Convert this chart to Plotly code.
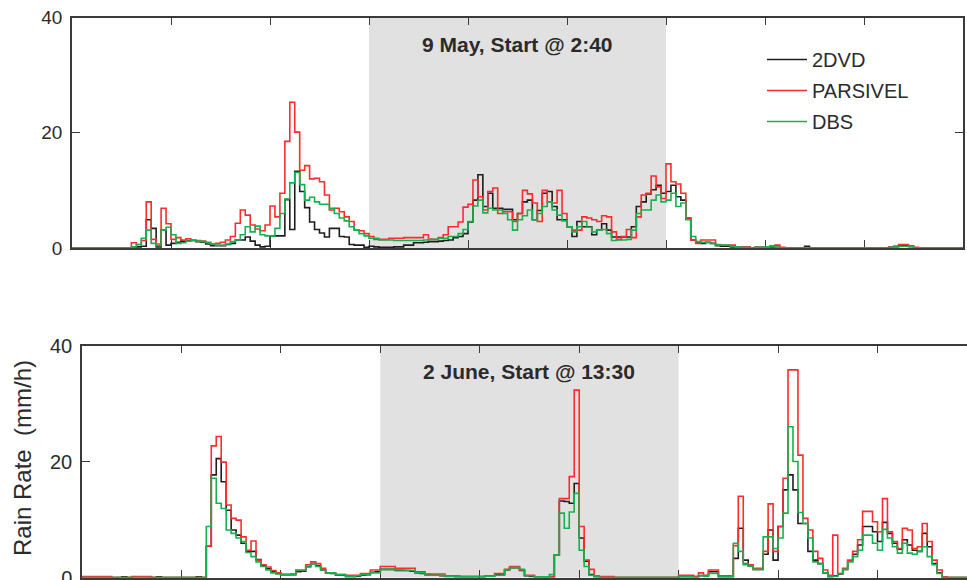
import numpy as np
import plotly.graph_objects as go

# Rain rate (mm/h) in 3-minute bins; time axis in hours from start
BIN_H = 0.05

TOP_2DVD = [
    0, 0, 0, 0, 0, 0, 0, 0, 0, 0,
    0, 0, 0, 0.2, 0.3, 4.9, 3.4, 0.2, 3.1, 0.5,
    0.8, 1.0, 1.2, 1.3, 1.3, 1.1, 1.0, 0.7, 0.4, 0.4,
    0.4, 0.6, 0.8, 1.4, 1.4, 1.9, 1.2, 0.5, 0.2, 0.3,
    2.1, 2.1, 2.1, 8.4, 3.2, 13.3, 9.8, 7.0, 4.5, 3.2,
    2.6, 1.9, 3.4, 3.4, 2.0, 1.9, 0.6, 0.5, 0.5, 0.1,
    0.3, 0.2, 0.1, 0.1, 0.1, 0.2, 0.2, 0.5, 0.5, 0.9,
    0.9, 1.0, 1.1, 1.1, 1.2, 1.3, 1.4, 1.8, 2.0, 2.5,
    4.5, 8.3, 12.7, 7.2, 9.5, 6.9, 6.9, 6.7, 6.7, 4.9,
    6.0, 8.0, 8.3, 4.9, 6.5, 9.5, 9.8, 7.2, 4.9, 4.9,
    3.7, 2.0, 4.6, 3.7, 3.7, 2.3, 3.1, 4.2, 3.1, 1.9,
    1.9, 1.9, 1.9, 3.7, 7.2, 8.0, 9.4, 10.1, 10.9, 9.5,
    9.8, 10.9, 8.9, 8.3, 5.2, 1.4, 1.0, 0.8, 1.0, 0.8,
    0.4, 0.3, 0.3, 0.2, 0.2, 0.1, 0.1, 0, 0.1, 0.1,
    0.1, 0.2, 0.1, 0, 0, 0, 0, 0, 0.3, 0,
    0, 0, 0, 0, 0, 0, 0, 0, 0, 0,
    0, 0, 0, 0, 0, 0.1, 0.3, 0.4, 0.4, 0.3,
    0, 0, 0, 0, 0, 0, 0, 0, 0, 0,
]

TOP_PARSIVEL = [
    0, 0, 0, 0, 0, 0, 0, 0, 0, 0,
    0, 0, 0.9, 0.6, 1.3, 8.0, 1.5, 0.7, 6.9, 4.2,
    1.5, 1.8, 1.4, 1.6, 1.4, 1.3, 1.2, 0.9, 0.7, 0.8,
    1.0, 1.4, 2.0, 4.3, 6.6, 5.7, 4.0, 3.3, 3.0, 4.0,
    7.3, 5.4, 9.5, 18.5, 25.3, 20.1, 13.5, 14.3, 12.0, 12.1,
    11.5, 9.2, 6.6, 6.9, 6.3, 5.4, 4.6, 3.1, 3.0, 2.5,
    2.0, 1.5, 1.5, 1.5, 1.7, 1.7, 1.7, 1.8, 1.8, 1.8,
    1.8, 2.3, 1.5, 1.5, 1.8, 2.3, 3.7, 3.7, 4.5, 7.1,
    7.6, 11.8, 8.9, 6.6, 9.8, 10.4, 6.0, 6.3, 6.3, 4.6,
    6.0, 10.0, 9.4, 7.8, 4.6, 10.0, 8.0, 7.8, 10.0, 6.0,
    3.7, 3.1, 3.1, 5.4, 5.2, 4.9, 4.6, 5.6, 5.4, 2.8,
    1.5, 2.0, 3.2, 1.8, 5.4, 9.2, 9.5, 12.5, 10.6, 8.6,
    14.6, 11.5, 11.1, 9.5, 5.2, 1.4, 0.8, 1.4, 1.4, 1.4,
    0.5, 0.5, 0.5, 0.5, 0.2, 0.2, 0.2, 0, 0.1, 0.1,
    0.1, 0.4, 0.5, 0.1, 0, 0, 0, 0, 0, 0,
    0, 0, 0, 0, 0, 0, 0, 0, 0, 0,
    0, 0, 0, 0, 0, 0.2, 0.2, 0.6, 0.6, 0.4,
    0.1, 0, 0, 0, 0, 0, 0, 0, 0, 0,
]

TOP_DBS = [
    0, 0, 0, 0, 0, 0, 0, 0, 0, 0,
    0, 0, 0.2, 0.6, 1.7, 3.1, 0.8, 0.4, 3.1, 3.6,
    2.3, 0.8, 0.9, 1.2, 1.3, 1.2, 1.1, 1.0, 0.7, 0.5,
    0.5, 0.7, 1.1, 1.4, 2.3, 3.7, 2.8, 3.8, 2.3, 2.1,
    2.1, 3.4, 6.0, 8.5, 11.3, 13.1, 11.0, 8.3, 8.8, 8.0,
    7.6, 7.6, 6.9, 6.0, 5.2, 4.7, 3.7, 3.1, 2.5, 2.1,
    1.7, 1.7, 1.4, 1.4, 1.4, 1.3, 1.3, 1.3, 1.3, 1.3,
    1.3, 1.4, 1.5, 1.5, 1.7, 1.7, 2.0, 2.0, 2.5, 3.2,
    4.6, 7.3, 8.3, 6.1, 6.9, 6.6, 6.6, 6.0, 4.9, 3.1,
    4.9, 5.6, 6.6, 4.9, 6.0, 7.2, 8.0, 6.6, 5.7, 4.7,
    3.7, 2.8, 3.7, 4.6, 3.6, 2.8, 3.1, 3.2, 2.5, 1.3,
    1.4, 1.4, 1.5, 3.1, 6.0, 6.6, 6.6, 8.3, 9.2, 8.0,
    8.3, 9.5, 7.2, 7.8, 4.9, 2.0, 1.1, 1.0, 0.9, 0.8,
    0.6, 0.5, 0.5, 0.3, 0.2, 0.1, 0.1, 0, 0.1, 0.1,
    0.2, 0.3, 0.1, 0, 0, 0, 0, 0, 0, 0,
    0, 0, 0, 0, 0, 0, 0, 0, 0, 0,
    0, 0, 0, 0, 0, 0.1, 0.2, 0.3, 0.3, 0.2,
    0, 0, 0, 0, 0, 0, 0, 0, 0, 0,
]

BOTTOM_2DVD = [
    0, 0, 0, 0, 0, 0, 0, 0, 0.1, 0,
    0.1, 0.1, 0.1, 0, 0, 0.1, 0, 0, 0, 0,
    0, 0, 0, 0.1, 0, 5.4, 17.7, 20.5, 16.5, 11.6,
    8.2, 7.3, 5.9, 4.5, 4.5, 3.1, 2.0, 1.5, 1.0, 0.7,
    0.5, 0.5, 0.5, 1.0, 1.1, 1.9, 2.4, 2.0, 1.3, 0.8,
    0.7, 0.4, 0.4, 0.1, 0.1, 0.2, 0.4, 0.5, 0.9, 1.0,
    1.4, 1.4, 1.4, 1.2, 1.2, 1.2, 1.1, 0.8, 0.7, 0.5,
    0.4, 0.4, 0.3, 0.2, 0.2, 0.1, 0.1, 0.1, 0.1, 0.1,
    0.1, 0.3, 0.3, 0.5, 0.6, 1.3, 1.7, 1.7, 1.2, 0.3,
    0.2, 0.1, 0.1, 0.1, 0.1, 3.9, 13.2, 13.1, 12.8, 16.2,
    6.8, 2.8, 0.5, 0.1, 0, 0, 0, 0, 0, 0,
    0, 0, 0, 0, 0, 0, 0, 0, 0, 0,
    0.1, 0.1, 0.1, 0.1, 0.3, 0.3, 1.0, 1.0, 0.1, 0.1,
    0.1, 3.3, 8.5, 3.0, 2.0, 1.4, 1.4, 4.0, 8.2, 3.0,
    8.8, 15.1, 17.7, 15.1, 9.3, 9.3, 4.5, 3.0, 2.4, 0.8,
    0.1, 0.3, 0.6, 1.4, 2.8, 4.0, 5.6, 8.8, 8.8, 7.9,
    6.2, 9.5, 7.6, 5.9, 4.9, 6.5, 5.6, 4.7, 4.5, 7.6,
    5.3, 2.4, 0.8, 0.05, 0, 0, 0, 0, 0,
]

BOTTOM_PARSIVEL = [
    0.15, 0.15, 0.15, 0.15, 0.15, 0.15, 0, 0, 0, 0,
    0.15, 0.15, 0.15, 0.15, 0, 0, 0, 0, 0, 0,
    0, 0, 0, 0, 0, 5.4, 22.7, 24.3, 19.9, 12.5,
    10.2, 9.9, 7.0, 4.7, 6.3, 3.0, 2.2, 1.8, 1.2, 0.8,
    0.5, 0.5, 0.6, 1.2, 1.2, 2.2, 2.7, 2.4, 1.6, 0.8,
    0.8, 0.5, 0.5, 0.4, 0.4, 0.4, 0.7, 0.7, 1.3, 1.3,
    1.9, 1.9, 1.9, 1.6, 1.6, 1.6, 1.6, 1.0, 1.0, 0.6,
    0.6, 0.6, 0.6, 0.3, 0.3, 0.3, 0.2, 0.2, 0.2, 0.2,
    0.2, 0.3, 0.3, 0.7, 0.7, 1.4, 1.9, 1.9, 1.3, 0.4,
    0.4, 0.1, 0.1, 0.1, 0.1, 3.9, 13.6, 13.6, 17.4, 32.3,
    8.8, 3.0, 1.4, 0.3, 0.15, 0.15, 0.15, 0, 0, 0,
    0, 0, 0, 0, 0, 0, 0, 0, 0, 0,
    0.4, 0.4, 0.4, 0.2, 0.8, 0.4, 1.3, 1.3, 0.3, 0.3,
    0.3, 5.5, 14.0, 2.4, 2.2, 1.6, 1.6, 4.5, 12.7, 4.5,
    8.8, 17.1, 35.8, 35.8, 21.1, 10.2, 8.2, 4.5, 3.3, 1.3,
    0.4, 7.3, 0.7, 1.6, 3.0, 4.5, 6.5, 11.4, 11.4, 9.6,
    7.9, 13.6, 7.9, 6.2, 5.0, 8.5, 8.2, 5.0, 5.3, 9.3,
    6.2, 3.0, 1.3, 0.1, 0, 0, 0, 0, 0,
]

BOTTOM_DBS = [
    0, 0, 0, 0, 0, 0, 0, 0, 0, 0,
    0, 0, 0, 0, 0, 0, 0, 0, 0, 0,
    0, 0, 0, 0, 0, 8.8, 17.1, 12.8, 11.9, 8.2,
    7.6, 6.8, 6.2, 4.3, 3.6, 2.7, 1.9, 1.3, 0.8, 0.6,
    0.5, 0.5, 0.5, 1.3, 1.3, 1.8, 2.4, 1.9, 1.3, 0.8,
    0.8, 0.5, 0.5, 0.2, 0.2, 0.3, 0.5, 0.5, 0.8, 0.8,
    1.4, 1.4, 1.4, 1.3, 1.3, 1.2, 1.2, 0.8, 0.8, 0.4,
    0.4, 0.4, 0.4, 0.2, 0.2, 0.2, 0.1, 0.1, 0.1, 0.1,
    0.1, 0.2, 0.2, 0.4, 0.4, 1.3, 1.7, 1.7, 1.4, 0.3,
    0.3, 0.1, 0.1, 0.1, 0.5, 3.9, 11.1, 8.5, 11.3, 14.5,
    4.7, 1.9, 0.4, 0.2, 0, 0, 0, 0, 0, 0,
    0, 0, 0, 0, 0, 0, 0, 0, 0, 0,
    0.1, 0.1, 0.1, 0, 0.4, 0.2, 0.7, 0.7, 0.1, 0.1,
    0.1, 5.9, 4.5, 2.2, 2.0, 1.4, 1.4, 7.0, 7.0, 5.0,
    6.8, 11.1, 26.0, 20.0, 11.2, 9.3, 6.8, 2.7, 2.4, 0.8,
    0.2, 0.2, 0.7, 1.4, 2.7, 3.6, 4.7, 7.3, 7.3, 5.9,
    4.7, 8.3, 6.8, 5.3, 4.2, 5.9, 4.2, 4.0, 4.5, 5.3,
    3.6, 2.2, 0.7, 0, 0, 0, 0, 0, 0,
]

SERIES = ["2DVD", "PARSIVEL", "DBS"]
COLORS = {"2DVD": "#1e1e1e", "PARSIVEL": "#ff2b2b", "DBS": "#14b24f"}
PANEL_TITLES = ["9 May, Start @ 2:40", "2 June, Start @ 13:30"]
Y_TICKS = [0, 20, 40]
SHADE_SPAN = (3, 6)   # hours, shaded interval in both events

W, H = 967, 580
FONT = "Liberation Sans, Arial, Helvetica, sans-serif"
INK = "#2b2b2b"
AXIS = "#3a3a3a"

panels = [
    {"data": dict(zip(SERIES, [TOP_2DVD, TOP_PARSIVEL, TOP_DBS])),
     "xa": "x", "ya": "y", "legend": True},
    {"data": dict(zip(SERIES, [BOTTOM_2DVD, BOTTOM_PARSIVEL, BOTTOM_DBS])),
     "xa": "x2", "ya": "y2", "legend": False},
]


def step_xy(vals):
    # bin left edges plus the closing edge, held flat with 'hv'
    x = np.arange(len(vals) + 1) * BIN_H
    y = list(vals) + [vals[-1]]
    return x, y


fig = go.Figure()
for p in panels:
    for name in SERIES:
        x, y = step_xy(p["data"][name])
        fig.add_trace(go.Scatter(
            x=x, y=y, mode="lines", name=name,
            line=dict(color=COLORS[name], width=1.6, shape="hv"),
            xaxis=p["xa"], yaxis=p["ya"],
            legendgroup=name, showlegend=p["legend"],
            hoverinfo="skip",
        ))

axis_common = dict(
    showline=True, linecolor=AXIS, linewidth=1.5,
    ticks="inside", ticklen=8, tickwidth=1.3, tickcolor=AXIS,
    showgrid=False, zeroline=False, layer="below traces",
    automargin=False,
)

fig.update_layout(
    width=W, height=H,
    margin=dict(l=0, r=0, t=0, b=0, autoexpand=False),
    paper_bgcolor="white", plot_bgcolor="white",
    font=dict(family=FONT, color=INK),
    xaxis=dict(domain=[72 / W, 963 / W], range=[0, 9], dtick=1, tick0=0,
               mirror="ticks", showticklabels=False, anchor="y", **axis_common),
    yaxis=dict(domain=[1 - 248 / H, 1 - 17.5 / H], range=[0, 40],
               tickvals=Y_TICKS, mirror="ticks", anchor="x",
               tickfont=dict(size=19, color=INK), ticklabelstandoff=4,
               ticklabeloverflow="allow", **axis_common),
    xaxis2=dict(domain=[82 / W, 1.0], range=[0, 8.9], dtick=1, tick0=0,
                mirror="ticks", showticklabels=False, anchor="y2", **axis_common),
    yaxis2=dict(domain=[1 - 577.5 / H, 1 - 345.5 / H], range=[0, 40],
                tickvals=Y_TICKS, mirror=False, anchor="x2",
                tickfont=dict(size=20, color=INK), ticklabelstandoff=4,
                ticklabeloverflow="allow", **axis_common),
    legend=dict(x=762 / W, y=1 - 40 / H, xanchor="left", yanchor="top",
                bgcolor="rgba(0,0,0,0)", borderwidth=0,
                font=dict(size=20, color=INK), tracegroupgap=2,
                itemwidth=40),
    showlegend=True,
)

for xa, ya in (("x", "y"), ("x2", "y2")):
    fig.add_shape(type="rect", xref=xa, yref=f"{ya} domain",
                  x0=SHADE_SPAN[0], x1=SHADE_SPAN[1], y0=0, y1=1,
                  fillcolor="#e1e1e1", line=dict(width=0), layer="below")

fig.add_annotation(text=f"<b>{PANEL_TITLES[0]}</b>", xref="x", yref="paper",
                   x=sum(SHADE_SPAN) / 2, y=1 - 44 / H, showarrow=False,
                   font=dict(size=21, color=INK), xanchor="center", yanchor="middle")
fig.add_annotation(text=f"<b>{PANEL_TITLES[1]}</b>", xref="x2", yref="paper",
                   x=sum(SHADE_SPAN) / 2, y=1 - 372 / H, showarrow=False,
                   font=dict(size=21, color=INK), xanchor="center", yanchor="middle")
fig.add_annotation(text="Rain Rate\u00a0 (mm/h)", xref="paper", yref="paper",
                   x=22 / W, y=1 - 458 / H, textangle=-90, showarrow=False,
                   font=dict(size=24, color=INK), xanchor="center", yanchor="middle")

fig.write_html("out.html")
